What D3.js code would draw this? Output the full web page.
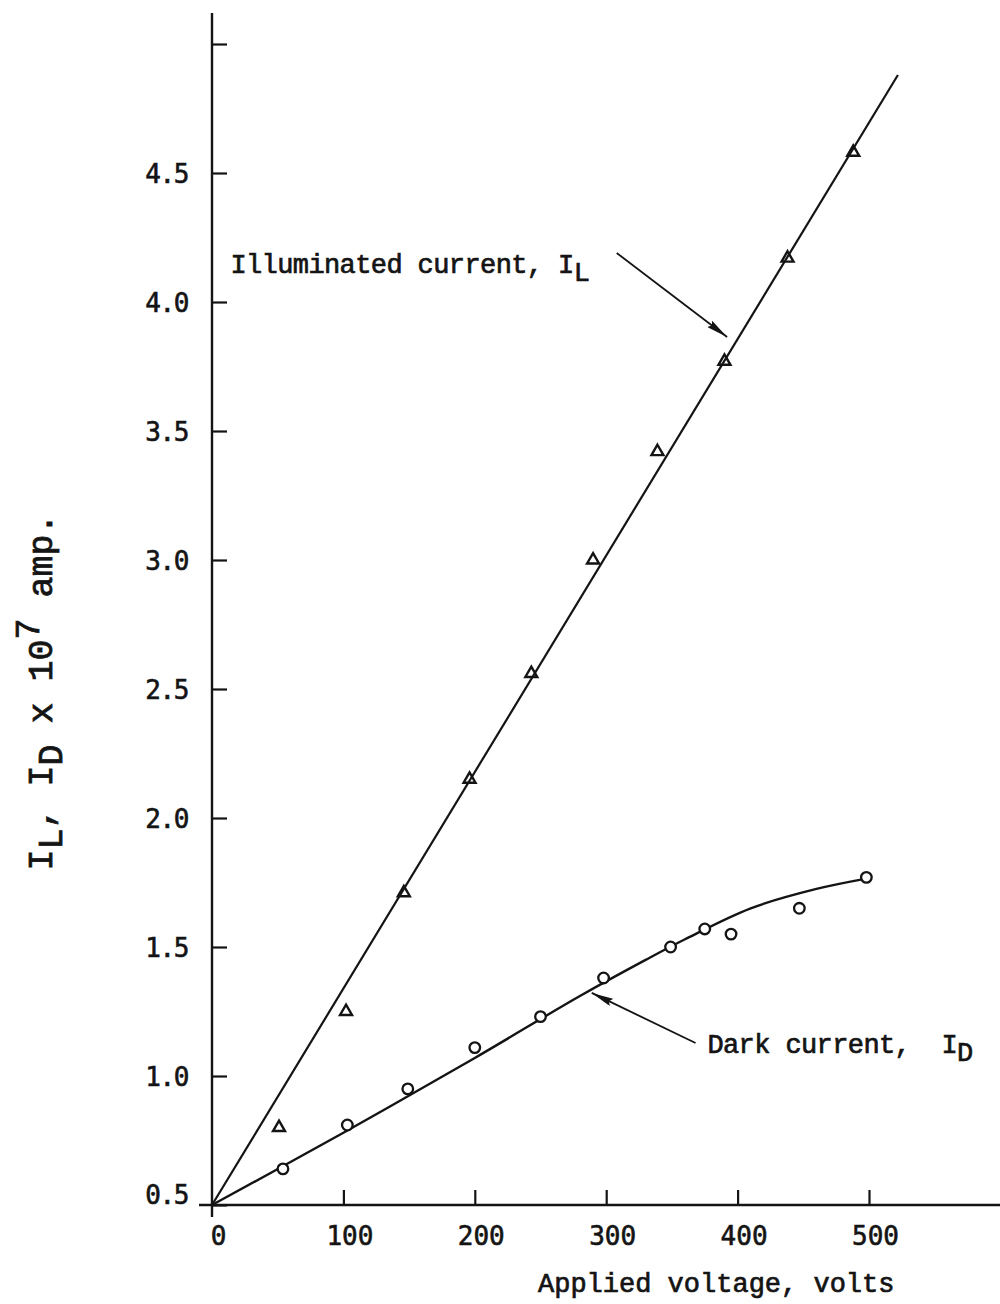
<!DOCTYPE html>
<html>
<head>
<meta charset="utf-8">
<script src="https://cdn.jsdelivr.net/npm/d3@7"></script>
<style>
  html, body { margin: 0; padding: 0; background: #fff; }
  svg { display: block; }
  text { font-family: "Liberation Mono", "DejaVu Sans Mono", monospace; fill: #141414; white-space: pre; }
</style>
</head>
<body>
<svg id="chart" width="1000" height="1304"></svg>
<script>
// Axis ticks
const voltageTicks = [0, 100, 200, 300, 400, 500];
const currentTicks = [0.5, 1.0, 1.5, 2.0, 2.5, 3.0, 3.5, 4.0, 4.5, 5.0];
const currentTickLabels = ["0.5", "1.0", "1.5", "2.0", "2.5", "3.0", "3.5", "4.0", "4.5", ""];

// Illuminated current I_L (x 10^-7 amp) vs applied voltage (volts)
const illumVoltage = [51, 102, 146, 196, 243, 290, 339, 390, 438, 488];
const illumCurrent = [0.80, 1.25, 1.71, 2.15, 2.56, 3.00, 3.42, 3.77, 4.17, 4.58];
// Straight-line fit through the illuminated points
const illumFitVoltage = [0, 522];
const illumFitCurrent = [0.5, 4.88];

// Dark current I_D
const darkVoltage = [54, 103, 149, 200, 250, 298, 349, 375, 395, 447, 498];
const darkCurrent = [0.64, 0.81, 0.95, 1.11, 1.23, 1.38, 1.50, 1.57, 1.55, 1.65, 1.77];
// Smooth faired curve through the dark points
const darkFitVoltage = [0, 100, 200, 280, 330, 360, 410, 460, 498];
const darkFitCurrent = [0.5, 0.78, 1.07, 1.31, 1.45, 1.53, 1.65, 1.725, 1.765];

// Callout labels and their leader arrows (data units)
const noteMain = ["Illuminated current, I", "Dark current,  I"];
const noteSub = ["L", "D"];
const noteVoltage = [14, 377];
const noteCurrent = [4.112, 1.089];
const arrowFromVoltage = [308, 368];
const arrowFromCurrent = [4.19, 1.128];
const arrowToVoltage = [392, 289];
const arrowToCurrent = [3.864, 1.322];

const svg = d3.select("#chart");
const ink = "#141414";

const x = d3.scaleLinear().domain([0, 600]).range([212, 1000.4]);
const y = d3.scaleLinear().domain([0.5, 5.0]).range([1205, 44]);

// Arrowhead
svg.append("defs").append("marker")
  .attr("id", "head")
  .attr("viewBox", "0 0 22 8")
  .attr("refX", 22).attr("refY", 4)
  .attr("markerUnits", "userSpaceOnUse")
  .attr("markerWidth", 22).attr("markerHeight", 8)
  .attr("orient", "auto")
  .append("path")
  .attr("d", "M0,0 L22,4 L0,8 L3,4 Z")
  .attr("fill", ink);

// Axis lines
svg.append("line")
  .attr("x1", x(0)).attr("x2", x(0))
  .attr("y1", y(0.5) + 12).attr("y2", 13)
  .attr("stroke", ink).attr("stroke-width", 2.4);
svg.append("line")
  .attr("x1", x(0) - 13).attr("x2", 1000)
  .attr("y1", y(0.5)).attr("y2", y(0.5))
  .attr("stroke", ink).attr("stroke-width", 2.4);

// Y axis ticks (pointing inward) and labels
const yAxis = svg.append("g")
  .attr("transform", `translate(${x(0)},0)`)
  .call(d3.axisLeft(y)
    .tickValues(currentTicks)
    .tickSizeInner(-15)
    .tickSizeOuter(0)
    .tickPadding(24)
    .tickFormat((d, i) => currentTickLabels[i]));
yAxis.select(".domain").remove();
yAxis.selectAll(".tick line").attr("stroke", ink).attr("stroke-width", 2.2);
yAxis.selectAll(".tick text")
  .attr("fill", ink)
  .attr("stroke", ink).attr("stroke-width", 0.6)
  .style("font-family", "'DejaVu Sans Mono', monospace")
  .style("font-size", "26px")
  .style("letter-spacing", "-1.4px")
  .attr("dy", d => d === 0.5 ? "-0.05em" : "0.36em");

// X axis ticks (pointing inward) and labels
const xAxis = svg.append("g")
  .attr("transform", `translate(0,${y(0.5)})`)
  .call(d3.axisBottom(x)
    .tickValues(voltageTicks)
    .tickSizeInner(-15)
    .tickSizeOuter(0)
    .tickPadding(22));
xAxis.select(".domain").remove();
xAxis.selectAll(".tick line").attr("stroke", ink).attr("stroke-width", 2.2)
  .attr("display", d => d === 0 ? "none" : null);
xAxis.selectAll(".tick text")
  .attr("fill", ink)
  .attr("stroke", ink).attr("stroke-width", 0.6)
  .attr("dx", 6)
  .style("font-family", "'DejaVu Sans Mono', monospace")
  .style("font-size", "26px");

// Fitted curves
const line = d3.line().x(d => x(d[0])).y(d => y(d[1]));
svg.append("path")
  .attr("d", line(d3.zip(illumFitVoltage, illumFitCurrent)))
  .attr("fill", "none").attr("stroke", ink).attr("stroke-width", 2.2);
svg.append("path")
  .attr("d", line.curve(d3.curveCatmullRom.alpha(0.5))(d3.zip(darkFitVoltage, darkFitCurrent)))
  .attr("fill", "none").attr("stroke", ink).attr("stroke-width", 2.4);

// Illuminated points: open triangles
const tri = d3.symbol().type(d3.symbolTriangle).size(62);
svg.append("g").selectAll("path")
  .data(d3.zip(illumVoltage, illumCurrent))
  .join("path")
  .attr("d", tri)
  .attr("transform", d => `translate(${x(d[0])},${y(d[1])})`)
  .attr("fill", "none").attr("stroke", ink).attr("stroke-width", 2.4);

// Dark points: open circles
svg.append("g").selectAll("circle")
  .data(d3.zip(darkVoltage, darkCurrent))
  .join("circle")
  .attr("cx", d => x(d[0])).attr("cy", d => y(d[1]))
  .attr("r", 5.3)
  .attr("fill", "#fff").attr("stroke", ink).attr("stroke-width", 2.3);

// Callouts
noteMain.forEach((txt, i) => {
  const t = svg.append("text")
    .attr("x", x(noteVoltage[i])).attr("y", y(noteCurrent[i]))
    .attr("stroke", ink).attr("stroke-width", 0.7)
    .style("font-size", "27px")
    .style("letter-spacing", "-0.6px");
  t.append("tspan").text(txt);
  t.append("tspan").attr("dy", 8).text(noteSub[i]);

  svg.append("line")
    .attr("x1", x(arrowFromVoltage[i])).attr("y1", y(arrowFromCurrent[i]))
    .attr("x2", x(arrowToVoltage[i])).attr("y2", y(arrowToCurrent[i]))
    .attr("stroke", ink).attr("stroke-width", 1.8)
    .attr("marker-end", "url(#head)");
});

// Axis titles
svg.append("text")
  .attr("x", 538).attr("y", 1292)
  .attr("stroke", ink).attr("stroke-width", 0.7)
  .style("font-size", "27px")
  .text("Applied voltage, volts");

const yTitle = svg.append("text")
  .attr("transform", "translate(52,692) rotate(-90)")
  .attr("text-anchor", "middle")
  .attr("stroke", ink).attr("stroke-width", 0.8)
  .style("font-size", "35px");
yTitle.append("tspan").text("I");
yTitle.append("tspan").attr("dy", 10).text("L");
yTitle.append("tspan").attr("dy", -10).text(", I");
yTitle.append("tspan").attr("dy", 10).text("D");
yTitle.append("tspan").attr("dy", -10).text(" x 10");
yTitle.append("tspan").attr("dy", -13).text("7");
yTitle.append("tspan").attr("dy", 13).text(" amp.");
</script>
</body>
</html>
